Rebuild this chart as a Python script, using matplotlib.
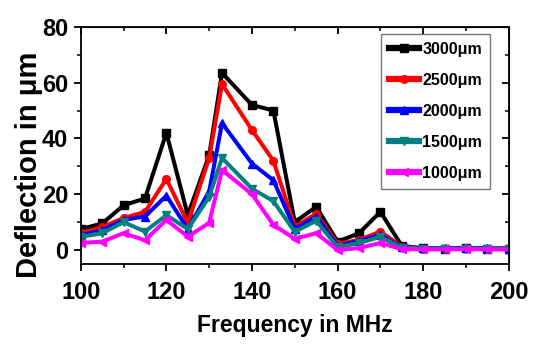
import matplotlib
matplotlib.use("Agg")
import matplotlib.pyplot as plt
from matplotlib import font_manager as fm

names = {f.name for f in fm.fontManager.ttflist}
NARROW = 'Liberation Sans Narrow' if 'Liberation Sans Narrow' in names else 'Liberation Sans'
BASE = 'Liberation Sans'

freq = [100, 105, 110, 115, 120, 125, 130, 133, 140, 145, 150, 155, 160, 165, 170, 175, 180, 185, 190, 195, 200]
d3000 = [7.5, 9.5, 16, 18.5, 42, 12.5, 34, 63.5, 52, 50, 10, 15.5, 3, 6, 13.7, 1.5, 0.6, 0.5, 0.6, 0.5, 0.5]
d2500 = [6, 8.2, 11.5, 13.6, 25.5, 9.7, 33, 59.5, 43, 32, 8.4, 13, 2.2, 3.6, 6.6, 1.2, 0.5, 0.5, 0.6, 0.5, 0.5]
d2000 = [5.4, 7, 10.8, 12, 19.5, 7.5, 21, 45.5, 31, 25, 7.5, 12, 1.5, 3.2, 5.4, 1.0, 0.6, 0.6, 0.8, 0.6, 0.5]
d1500 = [4.7, 6, 10, 6.6, 12.5, 7.5, 19, 33, 22, 17.5, 6.5, 10.5, 1.0, 2.5, 4.7, 0.8, 0.5, 0.5, 0.5, 0.5, 0.5]
d1000 = [2.5, 3, 6, 3.5, 10.8, 4.8, 9.7, 28.7, 20, 9, 4, 6, 0.0, 0.7, 2.5, 0.3, 0.2, 0.2, 0.3, 0.2, 0.2]

labels = ['3000μm', '2500μm', '2000μm', '1500μm', '1000μm']
series = [d3000, d2500, d2000, d1500, d1000]
colors = ['#000000', '#FF0000', '#0000FF', '#008080', '#FF00FF']
markers = ['s', 'o', '^', 'v', '<']

fig = plt.figure(figsize=(5.35, 3.45), dpi=100)
ax = fig.add_axes([0.151, 0.235, 0.80, 0.687])

for y, lab, c, m in zip(series, labels, colors, markers):
    ax.plot(freq, y, color=c, marker=m, lw=2.9, ms=5.5, label=lab)

ax.set_xlim(100, 200)
ax.set_ylim(-5, 80)
ax.set_xticks([100, 120, 140, 160, 180, 200])
ax.set_xticks(range(110, 200, 20), minor=True)
ax.set_yticks([0, 20, 40, 60, 80])
ax.set_yticks([10, 30, 50, 70], minor=True)

for s in ax.spines.values():
    s.set_linewidth(1.3)

ax.tick_params(which='major', direction='out', length=5, width=1.3)
ax.tick_params(which='minor', direction='out', length=3, width=1.1)
ax.tick_params(axis='x', pad=7)
ax.tick_params(axis='y', pad=4)

for lbl in ax.get_xticklabels() + ax.get_yticklabels():
    lbl.set_fontfamily(NARROW)
    lbl.set_fontweight('bold')
    lbl.set_fontsize(17)

# mirrored inward ticks on top and right
top = ax.secondary_xaxis('top')
top.set_xticks([100, 120, 140, 160, 180, 200])
top.set_xticks(range(110, 200, 20), minor=True)
top.tick_params(which='major', direction='in', length=5, width=1.3, labeltop=False)
top.tick_params(which='minor', direction='in', length=3, width=1.1)
right = ax.secondary_yaxis('right')
right.set_yticks([0, 20, 40, 60, 80])
right.set_yticks([10, 30, 50, 70], minor=True)
right.tick_params(which='major', direction='in', length=5, width=1.3, labelright=False)
right.tick_params(which='minor', direction='in', length=3, width=1.1)

ax.set_xlabel('Frequency in MHz', family=BASE, fontweight='bold', fontsize=16.5)
ax.xaxis.set_label_coords(0.5, -0.21)
ax.set_ylabel('Deflection in μm', family=BASE, fontweight='bold', fontsize=21)
ax.yaxis.set_label_coords(-0.088, 0.42)

leg = ax.legend(loc='upper right', bbox_to_anchor=(0.956, 0.97), frameon=True, fancybox=False,
                prop={'family': NARROW, 'weight': 'bold', 'size': 11.5},
                handlelength=1.9, handletextpad=0.2, labelspacing=1.0, borderpad=0.5,
                borderaxespad=0)
leg.get_frame().set_edgecolor('#555555')
leg.get_frame().set_linewidth(1.0)
for h in leg.get_lines():
    h.set_linewidth(4.5)

fig.savefig('out.png', dpi=100)
